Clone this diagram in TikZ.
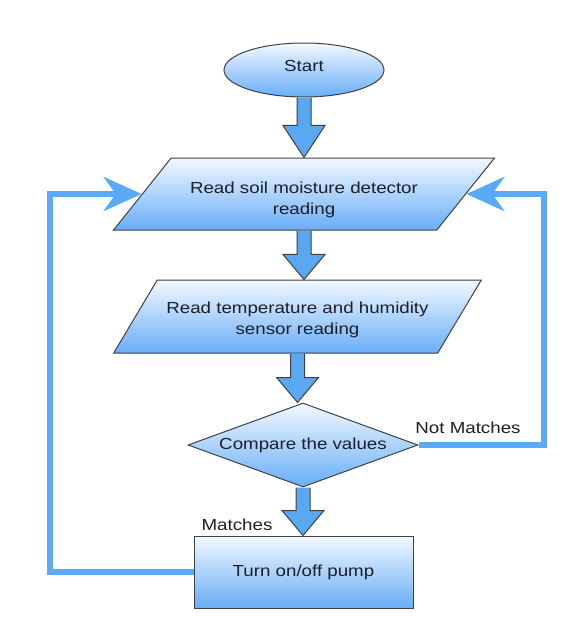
\documentclass[tikz,border=0pt]{standalone}
\usepackage{fontspec}
\setmainfont{Liberation Sans}[FakeStretch=1.17]
\usetikzlibrary{shapes.geometric,arrows.meta,calc}
\definecolor{edgeblue}{HTML}{5AAAF7}
\definecolor{arrblue}{HTML}{5AA8F2}
\definecolor{topc}{HTML}{F2F8FF}
\definecolor{botc}{HTML}{68AEF7}
\definecolor{bordc}{HTML}{404040}
\definecolor{txt}{HTML}{1E1E28}
\tikzset{
  flow/.style={draw=bordc, line width=1pt, top color=topc, bottom color=botc,
    text=txt, font=\fontsize{16}{20.5}\selectfont, align=center, inner sep=0pt},
  io/.style={flow, trapezium, trapezium stretches=true},
  startbox/.style={flow, ellipse, minimum width=160pt, minimum height=54pt},
  decide/.style={flow, diamond, minimum width=230pt, minimum height=84pt, aspect=2.74},
  procbox/.style={flow, rectangle, minimum width=219pt, minimum height=72pt},
  conn/.style={draw=edgeblue, line width=6pt, line join=miter,
    -{Stealth[length=38pt,width=34pt,inset=12pt]}},
  lbl/.style={text=txt, font=\fontsize{16}{20}\selectfont, inner sep=0pt},
  barrow/.style={draw=bordc, line width=1pt, fill=arrblue, line join=miter}
}
\newcommand\blockarr[3][25]{%
  \path let \p1=(#2.south), \p2=(#3.north) in
    [barrow] (\x1-7pt,\y1) -- (\x1-7pt,\y2+#1pt) -- (\x1-21pt,\y2+#1pt)
    -- (\x1,\y2) -- (\x1+21pt,\y2+#1pt) -- (\x1+7pt,\y2+#1pt) -- (\x1+7pt,\y1);
}
\begin{document}
\begin{tikzpicture}[x=1pt,y=-1pt]
\useasboundingbox (0,0) rectangle (567,643);
\node[startbox] (start) at (304,70) {\rule[-9pt]{0pt}{9pt}Start};
\node[io, trapezium left angle=43.8, trapezium right angle=136.2,
      minimum width=382pt, minimum height=72pt] (p1) at (304,194)
      {\rule{0pt}{23.6pt}Read soil moisture detector\\reading};
\node[io, trapezium left angle=46.2, trapezium right angle=133.8,
      minimum width=369pt, minimum height=73pt] (p2) at (297.5,316.5)
      {\rule{0pt}{18.6pt}Read temperature and humidity\\sensor reading};
\node[decide] (dia) at (303,445) {Compare the values};
\node[procbox] (pump) at (303.5,572) {Turn on/off pump};
\node[lbl] (nm) at (468,428) {Not Matches};
\node[lbl] (m) at (237,525) {Matches};

\blockarr[32]{start}{p1}
\blockarr{p1}{p2}
\blockarr{p2}{dia}
\blockarr{dia}{pump}

\draw[conn] (pump.west) -- ++(-144,0) |- (p1.left side);
\draw[conn] (dia.east) -- ++(125,0) |- (p1.right side);
\end{tikzpicture}
\end{document}
